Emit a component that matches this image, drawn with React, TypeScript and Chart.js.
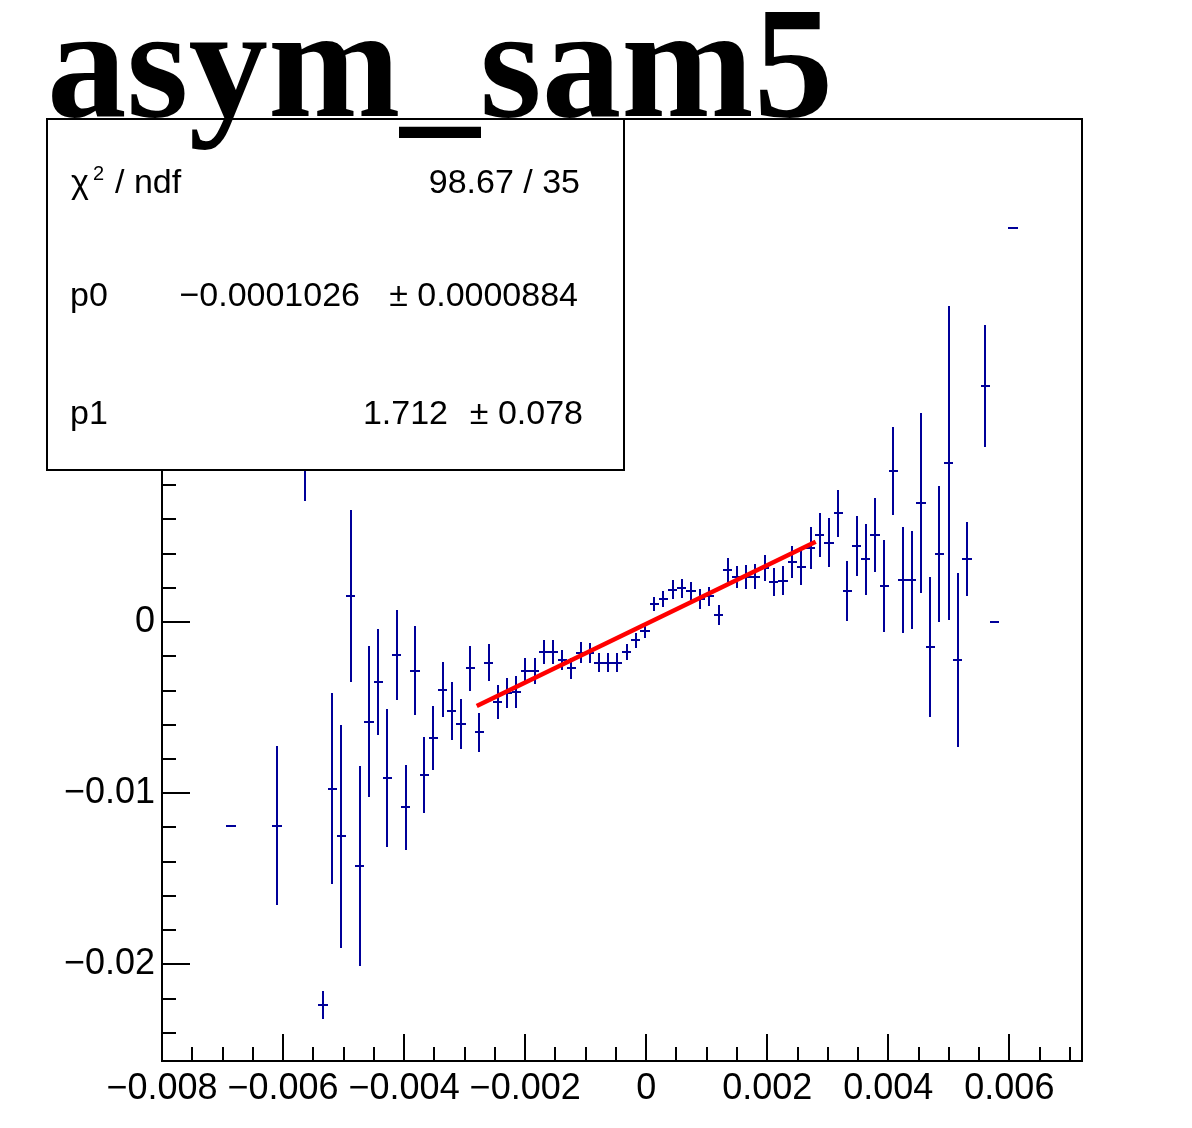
import React, { useEffect, useRef } from 'react';
import { Chart, registerables } from 'chart.js';

Chart.register(...registerables);

// ---------- axis ranges & ticks ----------
const X_MIN = -0.008;
const X_MAX = 0.0072;
const BIN_WIDTH = 0.000152;
const Y_MIN = -0.02565;
const Y_MAX = 0.0294;
const X_TICKS = [-0.008, -0.006, -0.004, -0.002, 0, 0.002, 0.004, 0.006];
const Y_TICKS = [-0.02, -0.01, 0, 0.01, 0.02];
const X_MINOR_STEP = 0.0005;
const Y_MINOR_STEP = 0.002;

// ---------- histogram data (bin index, content, error) ----------
const BINS = [
  7, 12, 15, 17, 18, 19, 20, 21, 22, 23, 24, 25, 26, 27, 28, 29, 30, 31, 32, 33,
  34, 35, 36, 37, 38, 39, 40, 41, 42, 43, 44, 45, 46, 47, 48, 49, 50, 51, 52, 53,
  54, 55, 56, 57, 58, 59, 60, 61, 62, 63, 64, 65, 66, 67, 68, 69, 70, 71, 72, 73,
  74, 75, 76, 77, 78, 79, 80, 81, 82, 83, 84, 85, 86, 87, 89, 90, 92,
];
const VALUES = [
  -0.01191, -0.01191, 0.0125, -0.02236, -0.00973, -0.01251, 0.00152, -0.01425, -0.00583, -0.00349,
  -0.00911, -0.00193, -0.01082, -0.00285, -0.00895, -0.00677, -0.00394, -0.0052, -0.00596, -0.00271,
  -0.00645, -0.00238, -0.00466, -0.00413, -0.00408, -0.00287, -0.00287, -0.00175, -0.00175, -0.00222,
  -0.00269, -0.00178, -0.00181, -0.00237, -0.00237, -0.00237, -0.00175, -0.00107, -0.00051, 0.00105,
  0.00133, 0.0019, 0.00197, 0.00183, 0.00133, 0.0015, 0.00041, 0.00304, 0.00265, 0.00263,
  0.00265, 0.00314, 0.00234, 0.00243, 0.00353, 0.00323, 0.00435, 0.00509, 0.00464, 0.00636,
  0.00181, 0.00446, 0.00368, 0.00509, 0.00212, 0.00883, 0.00246, 0.00246, 0.00694, -0.00144,
  0.00398, 0.00932, -0.00222, 0.00368, 0.01382, 0, 0.02304,
];
const ERRORS = [
  0, 0.00465, 0.0054, 0.00081, 0.00556, 0.00651, 0.00503, 0.00582, 0.00442, 0.0031,
  0.00402, 0.00261, 0.00249, 0.0026, 0.00222, 0.00185, 0.00161, 0.0017, 0.00146, 0.0013,
  0.00114, 0.00109, 0.001, 0.00088, 0.00092, 0.00076, 0.00076, 0.00068, 0.00068, 0.00058,
  0.00061, 0.00061, 0.00058, 0.00056, 0.00054, 0.00054, 0.00047, 0.00042, 0.00043, 0.00042,
  0.00047, 0.00056, 0.00054, 0.00053, 0.00058, 0.00056, 0.00058, 0.00068, 0.00063, 0.00068,
  0.00073, 0.00076, 0.00082, 0.00085, 0.00094, 0.00107, 0.00122, 0.00127, 0.00143, 0.00136,
  0.00175, 0.00175, 0.00208, 0.00216, 0.00269, 0.00256, 0.00312, 0.00285, 0.00526, 0.00409,
  0.00398, 0.00918, 0.00509, 0.00216, 0.00357, 0, 0,
];

// ---------- fit line ----------
const FIT_X = [-0.0028, 0.0028];
const FIT_Y = [-0.0049, 0.00469];

// ---------- texts ----------
const TITLE = 'asym_sam5';
const STAT_CHI2 = '98.67 / 35';
const P0_VAL = '\u22120.0001026';
const P0_ERR = '\u00b1 0.0000884';
const P1_VAL = '1.712';
const P1_ERR = '\u00b1 0.078';

const SANS = '"Liberation Sans", Arial, sans-serif';
const SERIF = '"Liberation Serif", "Times New Roman", serif';
const DATA_COLOR = '#000099';

const fmt = (v: number, digits: number) =>
  v === 0 ? '0' : (v < 0 ? '\u2212' : '') + Math.abs(v).toFixed(digits);

const binCenter = (b: number) => X_MIN + (b + 0.5) * BIN_WIDTH;

const errorBarPlugin = {
  id: 'errorBars',
  beforeDatasetsDraw(chart: any) {
    const { ctx, chartArea, scales } = chart;
    const xs = scales.x;
    const ys = scales.y;
    ctx.save();
    ctx.beginPath();
    ctx.rect(chartArea.left, chartArea.top, chartArea.right - chartArea.left, chartArea.bottom - chartArea.top);
    ctx.clip();
    ctx.strokeStyle = DATA_COLOR;
    ctx.lineWidth = 2;
    BINS.forEach((b, i) => {
      const xc = binCenter(b);
      const px = Math.round(xs.getPixelForValue(xc));
      const pl = Math.round(xs.getPixelForValue(xc - BIN_WIDTH / 2));
      const pr = Math.round(xs.getPixelForValue(xc + BIN_WIDTH / 2));
      const py = Math.round(ys.getPixelForValue(VALUES[i]));
      ctx.beginPath();
      ctx.moveTo(pl, py);
      ctx.lineTo(pr, py);
      if (ERRORS[i] > 0) {
        ctx.moveTo(px, Math.round(ys.getPixelForValue(VALUES[i] + ERRORS[i])));
        ctx.lineTo(px, Math.round(ys.getPixelForValue(VALUES[i] - ERRORS[i])));
      }
      ctx.stroke();
    });
    ctx.restore();
  },
};

const framePlugin = {
  id: 'rootFrame',
  afterDraw(chart: any) {
    const { ctx, chartArea, scales } = chart;
    const xs = scales.x;
    const ys = scales.y;
    const { left, right, top, bottom } = chartArea;
    ctx.save();
    ctx.strokeStyle = '#000';
    ctx.lineWidth = 2;
    ctx.strokeRect(left, top, right - left, bottom - top);

    // x ticks (inward, from bottom)
    ctx.beginPath();
    const nx = Math.round((X_MAX - X_MIN) / X_MINOR_STEP);
    for (let k = 0; k <= nx; k++) {
      const v = X_MIN + k * X_MINOR_STEP;
      if (v > X_MAX + 1e-9) break;
      const isMajor = Math.abs(v / 0.002 - Math.round(v / 0.002)) < 1e-6;
      const px = Math.round(xs.getPixelForValue(v));
      ctx.moveTo(px, bottom);
      ctx.lineTo(px, bottom - (isMajor ? 27 : 14));
    }
    // y ticks (inward, from left)
    const startY = Math.ceil(Y_MIN / Y_MINOR_STEP) * Y_MINOR_STEP;
    for (let v = startY; v <= Y_MAX + 1e-9; v += Y_MINOR_STEP) {
      const isMajor = Math.abs(v / 0.01 - Math.round(v / 0.01)) < 1e-6;
      const py = Math.round(ys.getPixelForValue(v));
      ctx.moveTo(left, py);
      ctx.lineTo(left + (isMajor ? 28 : 14), py);
    }
    ctx.stroke();

    // statistics box
    const bx = 47, by = 119, bw = 577, bh = 351;
    ctx.fillStyle = '#fff';
    ctx.fillRect(bx, by, bw, bh);
    ctx.strokeRect(bx, by, bw, bh);

    ctx.fillStyle = '#000';
    ctx.textBaseline = 'alphabetic';
    ctx.font = `34px ${SANS}`;
    ctx.textAlign = 'left';
    ctx.fillText('\u03c7', 71, 193);
    ctx.font = `20px ${SANS}`;
    ctx.fillText('2', 93, 180);
    ctx.font = `34px ${SANS}`;
    ctx.fillText('/ ndf', 115, 193);
    ctx.fillText('p0', 70, 306);
    ctx.fillText('p1', 70, 424);
    ctx.textAlign = 'right';
    ctx.fillText(STAT_CHI2, 580, 193);
    ctx.fillText(P0_VAL, 360, 306);
    ctx.fillText(P0_ERR, 578, 306);
    ctx.fillText(P1_VAL, 448, 424);
    ctx.fillText(P1_ERR, 583, 424);

    // title (drawn last, over the box)
    ctx.textAlign = 'left';
    ctx.font = `bold 159px ${SERIF}`;
    ctx.fillText(TITLE, 47, 116);
    ctx.restore();
  },
};

export default function App() {
  const canvasRef = useRef<HTMLCanvasElement | null>(null);

  useEffect(() => {
    document.body.style.margin = '0';
    const canvas = canvasRef.current;
    if (!canvas) return;
    const histPoints = BINS.map((b, i) => ({ x: binCenter(b), y: VALUES[i] }));
    const fitPoints = FIT_X.map((x, i) => ({ x, y: FIT_Y[i] }));

    const chart = new Chart(canvas, {
      type: 'scatter',
      data: {
        datasets: [
          {
            label: 'hist',
            data: histPoints,
            pointRadius: 0,
            showLine: false,
            borderColor: DATA_COLOR,
          },
          {
            label: 'fit',
            data: fitPoints,
            showLine: true,
            pointRadius: 0,
            borderColor: '#ff0000',
            borderWidth: 4.5,
            tension: 0,
          },
        ],
      },
      options: {
        responsive: false,
        animation: false,
        devicePixelRatio: 1,
        events: [],
        layout: { padding: { top: 119, right: 110, left: 0, bottom: 0 } },
        plugins: {
          legend: { display: false },
          tooltip: { enabled: false },
          title: { display: false },
        },
        scales: {
          x: {
            type: 'linear',
            min: X_MIN,
            max: X_MAX,
            grid: { display: false, drawTicks: false },
            border: { display: false },
            afterBuildTicks: (s: any) => {
              s.ticks = X_TICKS.map((v) => ({ value: v }));
            },
            afterFit: (s: any) => {
              s.height = 67;
            },
            ticks: {
              autoSkip: false,
              maxRotation: 0,
              minRotation: 0,
              padding: 6,
              color: '#000',
              font: { family: SANS, size: 36 },
              callback: (v: any) => fmt(Number(v), 3),
            },
          },
          y: {
            type: 'linear',
            min: Y_MIN,
            max: Y_MAX,
            grid: { display: false, drawTicks: false },
            border: { display: false },
            afterBuildTicks: (s: any) => {
              s.ticks = Y_TICKS.map((v) => ({ value: v }));
            },
            afterFit: (s: any) => {
              s.width = 162;
            },
            ticks: {
              autoSkip: false,
              padding: 7,
              color: '#000',
              font: { family: SANS, size: 36 },
              callback: (v: any) => fmt(Number(v), 2),
            },
          },
        },
      },
      plugins: [errorBarPlugin, framePlugin],
    } as any);

    return () => chart.destroy();
  }, []);

  return (
    <div style={{ position: 'fixed', left: 0, top: 0, width: 1192, height: 1128, background: '#fff' }}>
      <canvas ref={canvasRef} width={1192} height={1128} style={{ display: 'block', width: 1192, height: 1128 }} />
    </div>
  );
}
